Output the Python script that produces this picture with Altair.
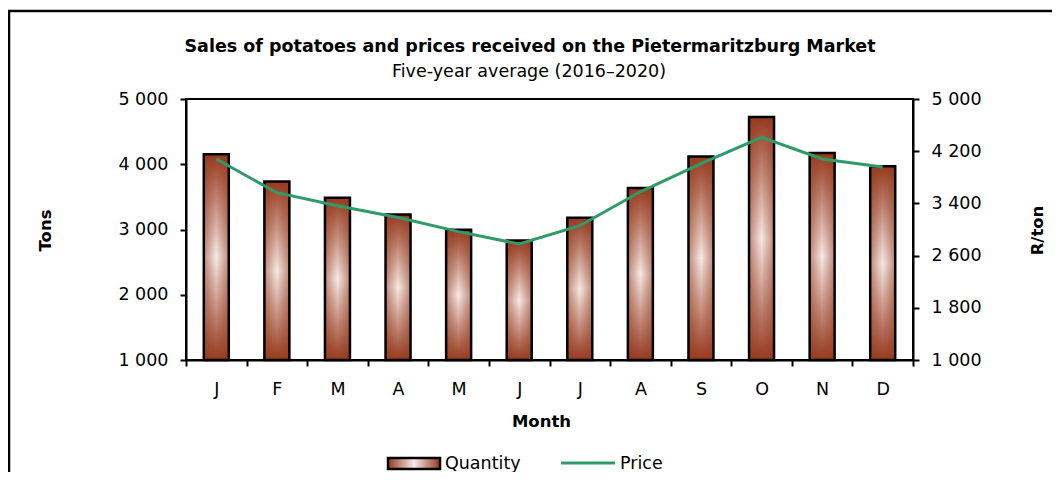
import altair as alt
import pandas as pd

# ---- data ----
MONTHS = ["Jan", "Feb", "Mar", "Apr", "May", "Jun",
          "Jul", "Aug", "Sep", "Oct", "Nov", "Dec"]
QUANTITY = [4154, 3734, 3487, 3231, 2995, 2831, 3180, 3636, 4118, 4723, 4174, 3969]
PRICE = [4080, 3564, 3365, 3185, 2967, 2778, 3058, 3578, 4010, 4413, 4080, 3958]
LEFT_TICKS = [1000, 2000, 3000, 4000, 5000]
RIGHT_TICKS = [1000, 1800, 2600, 3400, 4200, 5000]
TITLE = "Sales of potatoes and prices received on the Pietermaritzburg Market"
SUBTITLE = "Five-year average (2016–2020)"

df = pd.DataFrame({"month": MONTHS, "qty": QUANTITY, "price": PRICE})

FONT = "DejaVu Sans"
BROWN = "#963A1E"
LIGHT = "#F6EAE6"
GREEN = "#2E9B68"
W, H = 727, 261

vgrad = alt.LinearGradient(
    gradient="linear", x1=0, y1=0, x2=0, y2=1,
    stops=[alt.GradientStop(offset=0, color=BROWN),
           alt.GradientStop(offset=0.5, color=LIGHT),
           alt.GradientStop(offset=1, color=BROWN)])
hgrad = alt.LinearGradient(
    gradient="linear", x1=0, y1=0, x2=1, y2=0,
    stops=[alt.GradientStop(offset=0, color="rgba(150,58,30,0.55)"),
           alt.GradientStop(offset=0.5, color="rgba(150,58,30,0)"),
           alt.GradientStop(offset=1, color="rgba(150,58,30,0.55)")])
legend_grad = alt.LinearGradient(
    gradient="linear", x1=0, y1=0, x2=1, y2=0,
    stops=[alt.GradientStop(offset=0, color=BROWN),
           alt.GradientStop(offset=0.5, color=LIGHT),
           alt.GradientStop(offset=1, color=BROWN)])

thousands = "replace(format(datum.value, ','), ',', ' ')"

x_enc = alt.X("month:N", sort=MONTHS,
              scale=alt.Scale(paddingInner=0, paddingOuter=0),
              axis=alt.Axis(title="Month",
                            labelExpr="isValid(datum.value) ? substring(datum.value, 0, 1) : ''",
                            labelAngle=0, tickBand="extent", labelPadding=14,
                            titleX=355, titleY=61, titleBaseline="middle",
                            titleAlign="center"))

y_left = alt.Y("qty:Q",
               scale=alt.Scale(domain=[1000, 5000], nice=False, zero=False),
               axis=alt.Axis(orient="left", values=LEFT_TICKS, labelExpr=thousands,
                             title="Tons", titleAngle=270, titleX=-141, titleY=131,
                             titleBaseline="middle", titleAlign="center",
                             labelPadding=12))

base = alt.Chart(df)

bars_v = base.mark_bar(width=25, fill=vgrad, strokeWidth=0).encode(
    x=x_enc, y=y_left, y2=alt.datum(1000))
bars_h = base.mark_bar(width=25, fill=hgrad, stroke="black", strokeWidth=2.5).encode(
    x=x_enc, y=y_left, y2=alt.datum(1000))
bars = alt.layer(bars_v, bars_h)

line = base.mark_line(color=GREEN, strokeWidth=3).encode(
    x=x_enc,
    y=alt.Y("price:Q",
            scale=alt.Scale(domain=[1000, 5000], nice=False, zero=False),
            axis=alt.Axis(orient="right", values=RIGHT_TICKS, labelExpr=thousands,
                          title="R/ton", titleAngle=270, titleX=124, titleY=131,
                          titleBaseline="middle", titleAlign="center",
                          labelPadding=12)))

one = pd.DataFrame({"q": ["Quantity"], "p": ["Price"], "t": [TITLE], "s": [SUBTITLE]})
leg_rect = alt.Chart(one).mark_rect(fill=legend_grad, stroke="black", strokeWidth=2.5).encode(
    x=alt.value(202), x2=alt.value(254), y=alt.value(359), y2=alt.value(370))
leg_qtxt = alt.Chart(one).mark_text(align="left", baseline="middle", font=FONT,
                                    fontSize=17.5, color="black").encode(
    x=alt.value(259), y=alt.value(365), text="q:N")
leg_line = alt.Chart(one).mark_rule(color=GREEN, strokeWidth=3).encode(
    x=alt.value(375), x2=alt.value(429), y=alt.value(364))
leg_ptxt = alt.Chart(one).mark_text(align="left", baseline="middle", font=FONT,
                                    fontSize=17.5, color="black").encode(
    x=alt.value(434), y=alt.value(365), text="p:N")
title_txt = alt.Chart(one).mark_text(align="center", baseline="middle", font=FONT,
                                     fontSize=17.5, fontWeight="bold", color="black").encode(
    x=alt.value(344), y=alt.value(-52), text="t:N")
sub_txt = alt.Chart(one).mark_text(align="center", baseline="middle", font=FONT,
                                   fontSize=17.5, color="black").encode(
    x=alt.value(343), y=alt.value(-27), text="s:N")
frame = alt.Chart(one).mark_rect(fillOpacity=0, stroke="black", strokeWidth=2.5).encode(
    x=alt.value(-177), x2=alt.value(1200), y=alt.value(-88), y2=alt.value(600))

chart = alt.layer(
    bars, line, leg_rect, leg_qtxt, leg_line, leg_ptxt, title_txt, sub_txt, frame
).resolve_scale(y="independent").properties(
    width=W, height=H,
    autosize=alt.AutoSizeParams(type="none"),
    padding={"left": 178, "top": 91, "right": 139, "bottom": 112},
).configure_view(
    stroke="black", strokeWidth=2
).configure_axis(
    grid=False, domainColor="black", domainWidth=2, tickColor="black",
    tickWidth=2, tickSize=6, labelFont=FONT, labelFontSize=17.5,
    labelColor="black", titleFont=FONT, titleFontSize=16.5,
    titleFontWeight="bold", titleColor="black"
)

chart.save("out.html", embed_options={"renderer": "svg", "actions": False})
